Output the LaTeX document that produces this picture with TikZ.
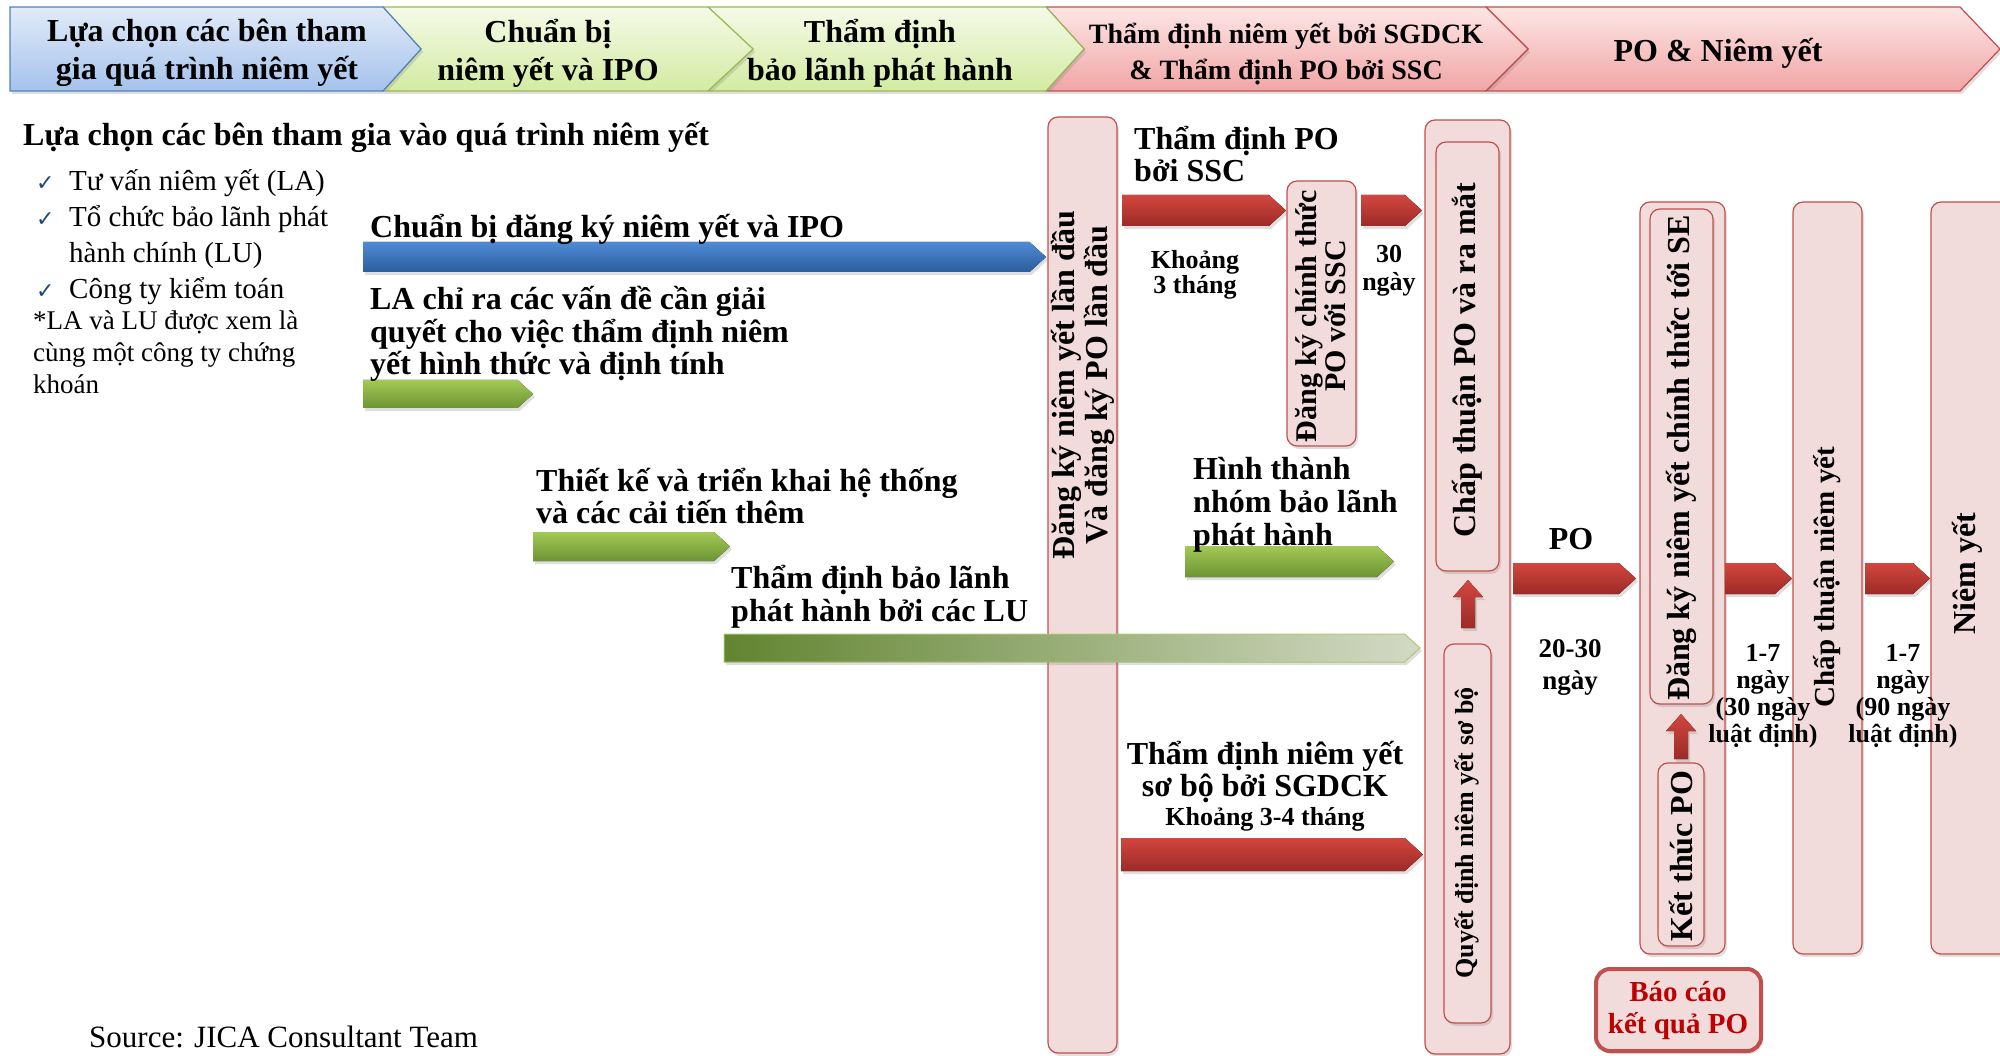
\documentclass[tikz,border=0pt]{standalone}
\usepackage{fontspec}
\setmainfont{Liberation Serif}
\newfontfamily\symfont{DejaVu Sans}
\usetikzlibrary{shadows}

\definecolor{boxred}{HTML}{C0504D}
\definecolor{boxpink}{HTML}{F2DCDB}
\definecolor{arrtop}{HTML}{D2473F}
\definecolor{arrbot}{HTML}{9C2A27}
\definecolor{grntop}{HTML}{A3C955}
\definecolor{grnbot}{HTML}{6C9434}
\definecolor{grnline}{HTML}{A9CB6A}
\definecolor{blutop}{HTML}{4F8BD6}
\definecolor{blubot}{HTML}{2C5C9C}
\definecolor{hdbline}{HTML}{4F81BD}
\definecolor{hdbtop}{HTML}{E1EBF8}
\definecolor{hdbbot}{HTML}{A5C2EC}
\definecolor{hdgline}{HTML}{9BBB59}
\definecolor{hdgtop}{HTML}{F5FAE8}
\definecolor{hdgbot}{HTML}{D3EBA2}
\definecolor{hdrtop}{HTML}{FDE6E6}
\definecolor{hdrbot}{HTML}{F1A5A5}
\definecolor{chkblue}{HTML}{1F497D}
\definecolor{darkred}{HTML}{C00000}

\newcommand{\fsz}[2]{\fontsize{#1}{#2}\selectfont}
\newcommand{\ck}{\makebox[33pt][l]{\symfont\color{chkblue}\fsz{22}{22}✓}}
% block arrow: start x, tip x, top y, bottom y
\newcommand{\barr}[5][redarr]{\fill[#1] (#2,#4)--({#3-0.55*(#5-#4)},#4)--(#3,{(#4+#5)/2})--({#3-0.55*(#5-#4)},#5)--(#2,#5)--cycle;}
% upward block arrow: centre x, tip y, foot y
\newcommand{\uarr}[3]{\fill[redarr] ({#1-7},#3)--({#1-7},{#2+17})--({#1-15},{#2+17})--(#1,#2)--({#1+15},{#2+17})--({#1+7},{#2+17})--({#1+7},#3)--cycle;}
% header chevron: style, left x, notch x, shoulder x, tip x
\newcommand{\chev}[5]{\draw[#1] (#2,7)--(#4,7)--(#5,49)--(#4,91)--(#2,91)--(#3,49)--cycle;}

\tikzset{
 shad/.style={drop shadow={shadow xshift=2pt,shadow yshift=-3pt,opacity=.25}},
 hdblue/.style={shad,draw=hdbline,top color=hdbtop,bottom color=hdbbot,line width=1.2pt},
 hdgreen/.style={shad,draw=hdgline,top color=hdgtop,bottom color=hdgbot,line width=1.2pt},
 hdred/.style={shad,draw=boxred,top color=hdrtop,bottom color=hdrbot,line width=1.2pt},
 pinkbox/.style={shad,draw=boxred,fill=boxpink,line width=1.2pt,rounded corners=10pt},
 redarr/.style={shad,top color=arrtop,bottom color=arrbot},
 grnarr/.style={shad,top color=grntop,bottom color=grnbot},
 bluarr/.style={shad,top color=blutop,bottom color=blubot},
 lgrnarr/.style={shad,left color=grnbot,middle color=grntop!90!white,right color=grntop!20!white,draw=grnline,line width=1pt,opacity=.88},
 hdtxt/.style={inner sep=0pt,align=center,font=\bfseries\fsz{32}{38}},
 txt/.style={inner sep=0pt,align=left,font=\bfseries\fsz{32}{32.5}},
 small/.style={inner sep=0pt,align=center,font=\bfseries\fsz{26}{27}},
 plain/.style={inner sep=0pt,align=left,font=\fsz{29}{36}},
 vtxt/.style={inner sep=0pt,align=center,rotate=90,font=\bfseries\fsz{32}{33}}
}

\begin{document}
\begin{tikzpicture}[x=1pt,y=-1pt]
\useasboundingbox (0,0) rectangle (2000,1056);
% phase headers
\chev{hdred}{1486}{1528}{1960}{2000}
\chev{hdred}{1046}{1084}{1486}{1528}
\chev{hdgreen}{708}{753}{1046}{1084}
\chev{hdgreen}{383}{421}{708}{753}
\chev{hdblue}{10}{10}{383}{421}
\node[hdtxt] (h1) at (207,53) {Lựa chọn các bên tham\\gia quá trình niêm yết};
\node[hdtxt] (h2) at (548,53) {Chuẩn bị\\niêm yết và IPO};
\node[hdtxt] (h3) at (880,53) {Thẩm định\\bảo lãnh phát hành};
\node[hdtxt,font=\bfseries\fsz{28}{36}] (h4) at (1286,54) {Thẩm định niêm yết bởi SGDCK\\\& Thẩm định PO bởi SSC};
\node[hdtxt] (h5) at (1718,53) {PO \& Niêm yết};

% columns
\draw[pinkbox] (1048,117) rectangle (1117,1053);
\draw[pinkbox] (1287,181) rectangle (1356,446);
\draw[pinkbox] (1425,120) rectangle (1510,1054);
\draw[pinkbox] (1436,142) rectangle (1499,571);
\draw[pinkbox] (1444,644) rectangle (1491,1023);
\draw[pinkbox] (1640,202) rectangle (1725,954);
\draw[pinkbox] (1650,209) rectangle (1713,704);
\draw[pinkbox] (1658,763) rectangle (1704,946);
\draw[pinkbox] (1793,202) rectangle (1862,954);
\draw[pinkbox] (1931,202) rectangle (2012,954);
\draw[pinkbox,line width=4pt,rounded corners=14pt] (1596,969) rectangle (1761,1051);

% arrows
\barr[bluarr]{363}{1046}{242}{272}
\barr[grnarr]{363}{533}{380}{408}
\barr[grnarr]{533}{730}{532}{561}
\barr[grnarr]{1185}{1394}{546}{577}
\barr[lgrnarr]{724}{1420}{634}{662}
\barr{1122}{1286}{195}{226}
\barr{1361}{1422}{195}{226}
\barr{1121}{1423}{838}{871}
\barr{1513}{1636}{563}{594}
\barr{1725}{1792}{563}{594}
\barr{1865}{1930}{563}{594}
\uarr{1468}{580}{628}
\uarr{1681}{714}{759}

% left texts
\node[txt,anchor=west] (sel) at (23,137) {Lựa chọn các bên tham gia vào quá trình niêm yết};
\node[plain,anchor=west] (list) at (36,237) {\ck Tư vấn niêm yết (LA)\\\ck Tổ chức bảo lãnh phát\\\hspace*{33pt}hành chính (LU)\\\ck Công ty kiểm toán};
\node[plain,anchor=west,font=\fsz{27}{32}] (note) at (33,352) {*LA và LU được xem là\\cùng một công ty chứng\\khoán};
\node[txt,anchor=west] (prep) at (370,229) {Chuẩn bị đăng ký niêm yết và IPO};
\node[txt,anchor=west] (la) at (370,334) {LA chỉ ra các vấn đề cần giải\\quyết cho việc thẩm định niêm\\yết hình thức và định tính};
\node[txt,anchor=west] (sys) at (536,496) {Thiết kế và triển khai hệ thống\\và các cải tiến thêm};
\node[txt,anchor=west] (lu) at (731,597) {Thẩm định bảo lãnh\\phát hành bởi các LU};
\node[txt,anchor=west] (ssc) at (1134,154) {Thẩm định PO\\bởi SSC};
\node[small,font=\bfseries\fsz{26}{25}] (k3) at (1195,275) {Khoảng\\3 tháng};
\node[small,font=\bfseries\fsz{26}{28}] (d30) at (1389,271) {30\\ngày};
\node[txt,anchor=west,font=\bfseries\fsz{32}{33}] (grp) at (1193,505) {Hình thành\\nhóm bảo lãnh\\phát hành};
\node[txt,align=center] (sgd) at (1265,772) {Thẩm định niêm yết\\sơ bộ bởi SGDCK};
\node[small] (k34) at (1265,819) {Khoảng 3-4 tháng};
\node[txt] (po) at (1571,539) {PO};
\node[small,font=\bfseries\fsz{27}{32}] (d2030) at (1570,667) {20-30\\ngày};
\node[small] (d17a) at (1763,696) {1-7\\ngày\\(30 ngày\\luật định)};
\node[small] (d17b) at (1903,696) {1-7\\ngày\\(90 ngày\\luật định)};
\node[hdtxt,text=darkred,font=\bfseries\fsz{29}{32}] (rep) at (1678,1011) {Báo cáo\\kết quả PO};
\node[plain,anchor=west,font=\fsz{31}{31}] (src) at (89,1037) {Source: JICA Consultant Team};

% column texts
\node[vtxt] (reg) at (1083,385) {Đăng ký niêm yết lần đầu\\Và đăng ký PO lần đầu};
\node[vtxt,font=\bfseries\fsz{30}{29}] (sscreg) at (1321,316) {Đăng ký chính thức\\PO với SSC};
\node[vtxt] (appr) at (1467,360) {Chấp thuận PO và ra mắt};
\node[vtxt,font=\bfseries\fsz{26}{26}] (prel) at (1467,833) {Quyết định niêm yết sơ bộ};
\node[vtxt] (sereg) at (1681,458) {Đăng ký niêm yết chính thức tới SE};
\node[vtxt] (endpo) at (1681,856) {Kết thúc PO};
\node[vtxt,font=\bfseries\fsz{29}{29}] (lappr) at (1827,577) {Chấp thuận niêm yết};
\node[vtxt] (lst) at (1967,574) {Niêm yết};
\end{tikzpicture}
\end{document}
